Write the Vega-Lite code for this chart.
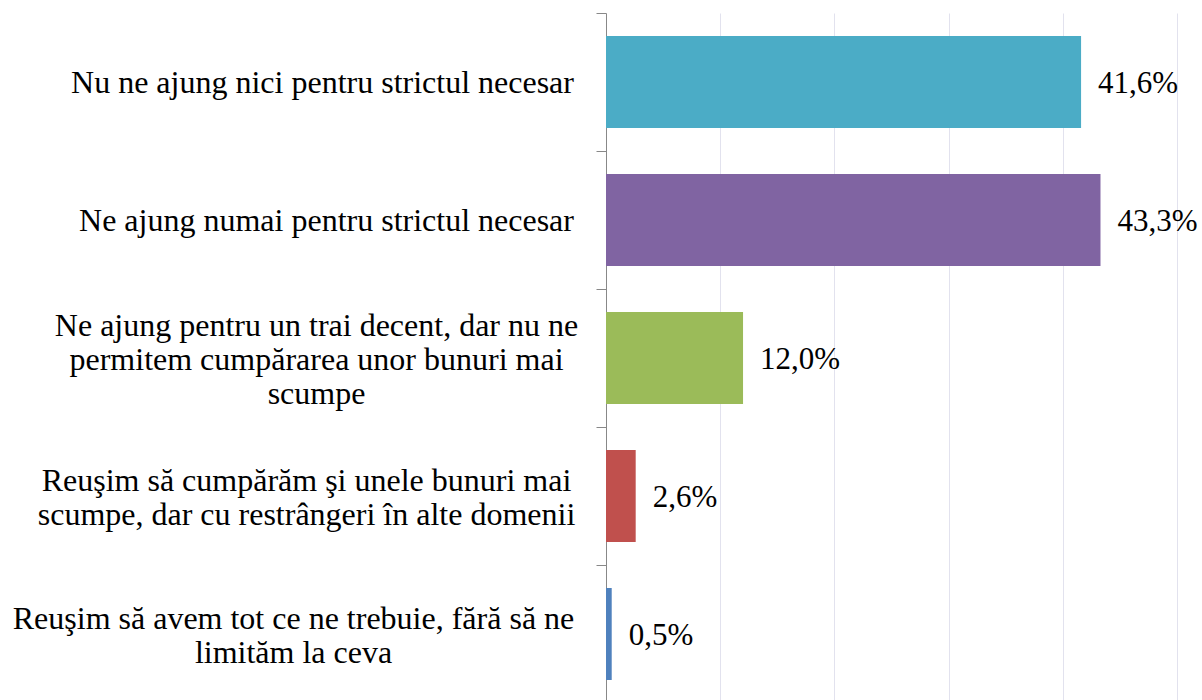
{
  "$schema": "https://vega.github.io/schema/vega-lite/v6.json",
  "width": 571,
  "height": 690,
  "autosize": {"type": "none"},
  "padding": {"left": 606, "top": 13, "right": 25, "bottom": 0},
  "background": "white",
  "config": {"view": {"stroke": null}, "font": "Liberation Serif"},
  "data": {
    "values": [
      {"cat": "Nu ne ajung nici pentru strictul necesar", "value": 41.6},
      {"cat": "Ne ajung numai pentru strictul necesar", "value": 43.3},
      {"cat": "Ne ajung pentru un trai decent, dar nu ne\npermitem cumpărarea unor bunuri mai\nscumpe", "value": 12.0},
      {"cat": "Reuşim să cumpărăm şi unele bunuri mai\nscumpe, dar cu restrângeri în alte domenii", "value": 2.6},
      {"cat": "Reuşim să avem tot ce ne trebuie, fără să ne\nlimităm la ceva", "value": 0.5}
    ]
  },
  "transform": [
    {"calculate": "replace(format(datum.value, '.1f'), '.', ',') + '%'", "as": "label"}
  ],
  "encoding": {
    "y": {
      "field": "cat",
      "type": "nominal",
      "sort": null,
      "scale": {"paddingInner": 0, "paddingOuter": 0},
      "axis": {
        "title": null,
        "labelExpr": "split(datum.label, '\\n')",
        "labelFont": "Liberation Serif",
        "labelFontSize": 32,
        "labelLineHeight": 34,
        "labelColor": "black",
        "labelAlign": "center",
        "labelBaseline": "middle",
        "labelLimit": 0,
        "labelPadding": 280,
        "tickSize": 10,
        "tickColor": "#888888",
        "domainColor": "#888888",
        "tickBand": "extent",
        "grid": false,
        "encoding": {
          "labels": {
            "dx": {"value": {"expr": "indexof('' + datum.value, 'Nu ne') === 0 ? 6 : indexof('' + datum.value, 'Ne ajung numai') === 0 ? 10 : indexof('' + datum.value, 'Ne ajung pentru') === 0 ? 0 : indexof('' + datum.value, 'Reuşim să cumpărăm') === 0 ? -10 : -23"}},
            "dy": {"value": {"expr": "indexof('' + datum.value, 'Ne ajung pentru') === 0 ? -33 : indexof('' + datum.value, 'Reuşim') === 0 ? -16 : 0"}}
          }
        }
      }
    },
    "x": {
      "field": "value",
      "type": "quantitative",
      "scale": {"domain": [0, 50], "nice": false},
      "axis": {
        "title": null,
        "labels": false,
        "ticks": false,
        "domain": false,
        "grid": true,
        "values": [10, 20, 30, 40, 50],
        "gridColor": "#E2E2EE",
        "gridWidth": 1
      }
    }
  },
  "layer": [
    {
      "mark": {"type": "bar", "height": {"band": 0.667}},
      "encoding": {
        "color": {
          "field": "cat",
          "type": "nominal",
          "sort": null,
          "scale": {"range": ["#4BACC6", "#8064A2", "#9BBB59", "#C0504D", "#4F81BD"]},
          "legend": null
        }
      }
    },
    {
      "mark": {"type": "text", "align": "left", "baseline": "middle", "dx": 17, "dy": 2, "fontSize": 31, "font": "Liberation Serif", "color": "black"},
      "encoding": {"text": {"field": "label"}}
    }
  ]
}
